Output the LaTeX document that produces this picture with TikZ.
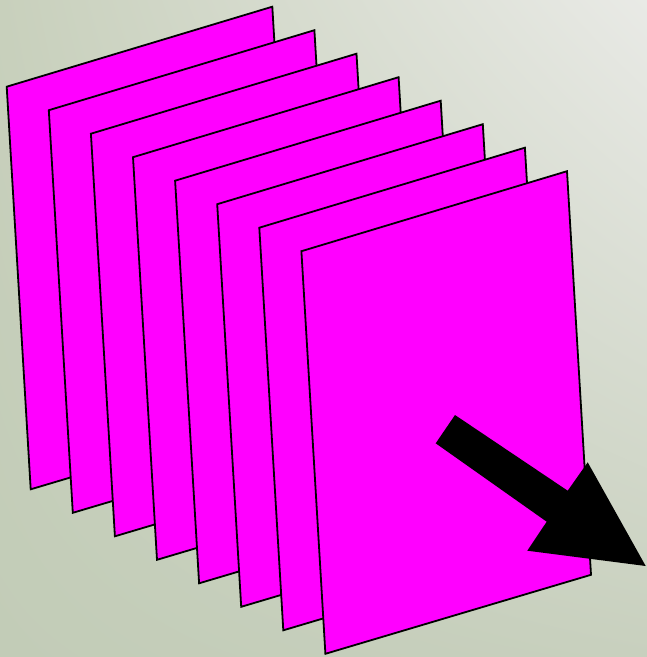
\documentclass[tikz,border=0pt]{standalone}
\usetikzlibrary{shadings}
\definecolor{bgul}{RGB}{200,208,188}
\definecolor{bgur}{RGB}{233,234,230}
\definecolor{bgll}{RGB}{194,204,183}
\definecolor{bglr}{RGB}{200,208,190}
\definecolor{sheetfill}{RGB}{255,0,255}
\begin{document}
\begin{tikzpicture}[x=1pt,y=-1pt,
  sheet/.style={fill=sheetfill, draw=black, line width=1.8pt, line join=miter},
  bigarrow/.style={fill=black, draw=none}]
\useasboundingbox (0,0) rectangle (647,657);
\shade[upper left=bgul, upper right=bgur, lower left=bgll, lower right=bglr]
  (0,0) rectangle (647,657);
\foreach \i in {0,...,7}{
  \draw[sheet] ({6.7+42.1*\i},{86.7+23.5*\i}) -- ({272.3+42.1*\i},{6.7+23.5*\i})
    -- ({296.3+42.1*\i},{410.3+23.5*\i}) -- ({30.7+42.1*\i},{489.3+23.5*\i}) -- cycle;
}
\fill[bigarrow] (455,415) -- (435.7,443.3) -- (546.7,521.7) -- (527.3,550.7)
  -- (645.7,566) -- (587.7,462.3) -- (567.7,490.7) -- cycle;
\end{tikzpicture}
\end{document}
